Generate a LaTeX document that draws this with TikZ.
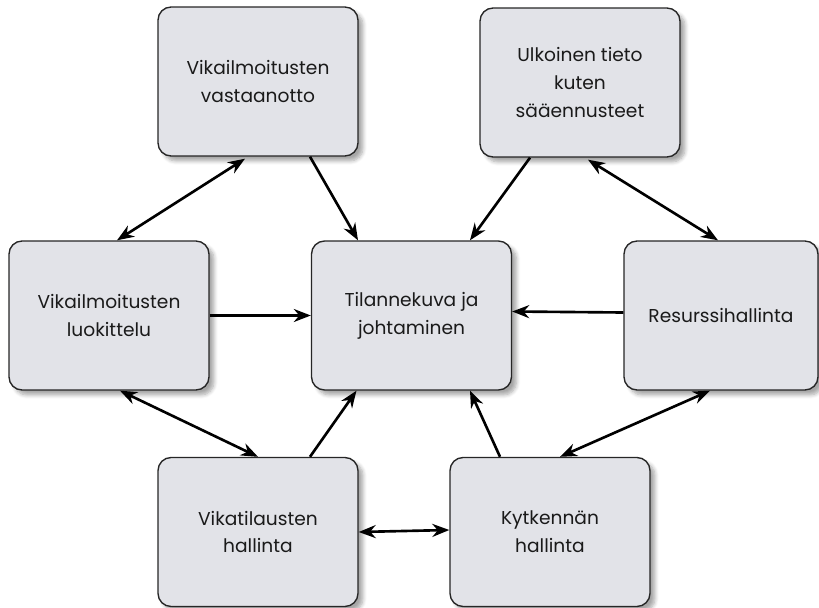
\documentclass[tikz,border=0pt]{standalone}
\usepackage{fontspec}
\setmainfont{Poppins}
\usetikzlibrary{arrows.meta,shadows.blur}
\definecolor{boxgray}{HTML}{E2E3E8}
\definecolor{txtgray}{HTML}{1A1A1A}
\begin{document}
\begin{tikzpicture}[x=0.02cm,y=-0.02cm,
    box/.style={draw=black!85,line width=0.8pt,fill=boxgray,rounded corners=0.26cm,
        minimum width=4cm,minimum height=2.98cm,align=center,text=txtgray,
        font=\fontsize{10.6}{15.8}\selectfont,
        blur shadow={shadow xshift=0.1cm,shadow yshift=-0.1cm,shadow blur steps=6,shadow opacity=35}},
    link/.style={line width=1.5pt,-{Stealth[length=0.34cm,width=0.26cm]}},
    both/.style={line width=1.5pt,{Stealth[length=0.34cm,width=0.26cm]}-{Stealth[length=0.34cm,width=0.26cm]}}]
    \useasboundingbox (0,0) rectangle (819,608);
    %% boxes
    \node[box] (vast) at (258,81.5) {Vikailmoitusten\\vastaanotto};
    \node[box] (ulk) at (580,82.5) {Ulkoinen tieto\\kuten\\sääennusteet};
    \node[box] (luok) at (109,315.5) {Vikailmoitusten\\luokittelu};
    \node[box] (tila) at (411.5,315.5) {Tilannekuva ja\\johtaminen};
    \node[box,minimum width=3.88cm] (res) at (721,315.5) {Resurssihallinta};
    \node[box] (vtil) at (258,532) {Vikatilausten\\hallinta};
    \node[box] (kyt) at (550,532) {Kytkennän\\hallinta};
    %% connectors
    \draw[both] ([xshift=-0.26cm,yshift=-0.04cm]vast.south) -- ([xshift=0.16cm]luok.north);
    \draw[link] ([xshift=1.04cm]vast.south) -- ([xshift=-1.07cm]tila.north);
    \draw[link] ([xshift=-1.0cm]ulk.south) -- ([xshift=1.17cm]tila.north);
    \draw[both] ([xshift=0.16cm,yshift=-0.04cm]ulk.south) -- ([xshift=-0.06cm]res.north);
    \draw[link] (luok.east) -- (tila.west);
    \draw[link] ([yshift=0.06cm]res.west) -- ([yshift=0.08cm]tila.east);
    \draw[both] ([xshift=0.22cm]luok.south) -- (vtil.north);
    \draw[link] ([xshift=1.04cm]vtil.north) -- ([xshift=-1.1cm]tila.south);
    \draw[both] (vtil.east) -- ([yshift=0.04cm]kyt.west);
    \draw[link] ([xshift=-1.0cm]kyt.north) -- ([xshift=1.17cm]tila.south);
    \draw[both] ([xshift=-0.22cm]res.south) -- ([xshift=0.2cm]kyt.north);
\end{tikzpicture}
\end{document}
